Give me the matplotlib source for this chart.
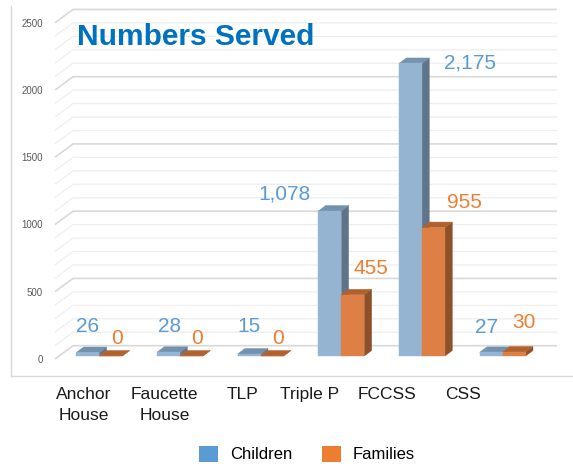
import matplotlib
matplotlib.use("Agg")
import matplotlib.pyplot as plt
from matplotlib.patches import Polygon, Patch
from matplotlib.lines import Line2D
from matplotlib import font_manager

# ---- data ----
categories = ["Anchor\nHouse", "Faucette\nHouse", "TLP", "Triple P", "FCCSS", "CSS"]
children = [26, 28, 15, 1078, 2175, 27]
families = [0, 0, 0, 455, 955, 30]
child_labels = ["26", "28", "15", "1,078", "2,175", "27"]
family_labels = ["0", "0", "0", "455", "955", "30"]
yticks = [0, 500, 1000, 1500, 2000, 2500]

# label offsets (pixels, right / up) relative to top of bar front face
child_off = [(0, 26), (1.5, 25.5), (0.3, 27), (-45, 17), (60, 0.5), (-4.7, 24.4)]
family_off = [(5.7, 17), (6, 17), (5.8, 17), (17.7, 26), (30.5, 24.6), (9.3, 29)]

# pick a narrow font if one is installed
narrow = None
for f in font_manager.fontManager.ttflist:
    if "Liberation Sans Narrow" in f.name:
        narrow = f.name
        break
if narrow:
    cat_font = {"family": narrow, "size": 14}
    leg_size = 14
else:
    cat_font = {"family": "Liberation Sans", "size": 12.5}
    leg_size = 12

W, H, DPI = 573, 472, 100
fig = plt.figure(figsize=(W / DPI, H / DPI), dpi=DPI)
fig.patch.set_facecolor("white")

# axes = front plane of the 3D box
L, R, B, T = 55, 539, 359, 22.75
ax = fig.add_axes([L / W, 1 - B / H, (R - L) / W, (B - T) / H])
ax.set_xlim(-0.5, 5.5)
ax.set_ylim(0, 2500)
ax.set_facecolor("none")
for s in ax.spines.values():
    s.set_visible(False)

px_x = (R - L) / 6.0          # pixels per x unit
px_y = (B - T) / 2500.0       # pixels per value unit


def d(dx_px, dy_px):
    return dx_px / px_x, dy_px / px_y


fdx, fdy = d(4, 3)        # bar front
bdx, bdy = d(11.3, 8.5)   # bar back
wdx, wdy = d(18, 13.3)    # back wall

# wall gridlines
for v in range(0, 2501, 100):
    major = v % 500 == 0
    c = "#d9d9d9" if major else "#eeeeee"
    lw = 1.2 if major else 0.9
    ax.plot([-0.5, -0.5 + wdx, 5.5 + wdx], [v, v + wdy, v + wdy], color=c, lw=lw,
            clip_on=False, zorder=1, solid_capstyle="butt")

bw = 23 / px_x
x = list(range(len(categories)))

styles = [
    ("#94B4D2", "#7491AD", "#5F7488"),
    ("#DE8046", "#B0612E", "#8D5028"),
]


def draw_bar(xl, v, cols):
    front, top, side = cols
    xr = xl + bw
    side_poly = [(xr + fdx, fdy), (xr + fdx, v + fdy), (xr + bdx, v + bdy), (xr + bdx, bdy)]
    top_poly = [(xl + fdx, v + fdy), (xr + fdx, v + fdy), (xr + bdx, v + bdy), (xl + bdx, v + bdy)]
    ax.add_patch(Polygon(side_poly, closed=True, facecolor=side, edgecolor=side, lw=0.3, zorder=3, clip_on=False))
    ax.add_patch(Polygon(top_poly, closed=True, facecolor=top, edgecolor=top, lw=0.3, zorder=3, clip_on=False))
    ax.bar(xl + fdx, v, width=bw, bottom=fdy, align="edge", color=front, edgecolor=front,
           lw=0.3, zorder=3, clip_on=False)


for i in x:
    draw_bar(i - bw, children[i], styles[0])
    draw_bar(i, families[i], styles[1])

# data labels
for i in x:
    cx = i - bw / 2 + fdx
    ax.annotate(child_labels[i], (cx, children[i] + fdy), xytext=(child_off[i][0] * 0.72, child_off[i][1] * 0.72),
                textcoords="offset points", ha="center", va="center", fontsize=15,
                family="Liberation Sans", color="#5B9BD5", zorder=5, annotation_clip=False)
    fx = i + bw / 2 + fdx
    ax.annotate(family_labels[i], (fx, families[i] + fdy), xytext=(family_off[i][0] * 0.72, family_off[i][1] * 0.72),
                textcoords="offset points", ha="center", va="center", fontsize=15,
                family="Liberation Sans", color="#ED7D31", zorder=5, annotation_clip=False)

# y ticks
ax.set_yticks(yticks)
ax.set_yticklabels([str(t) for t in yticks])
ax.tick_params(axis="y", length=0, pad=8.6, labelsize=7, labelcolor="#595959")
for lab in ax.get_yticklabels():
    lab.set_family("Liberation Sans")

# x tick labels (placed with slight perspective shift)
label_pos = [-0.14, 0.86, 1.83, 2.65, 3.62, 4.56]
ax.set_xticks(label_pos)
ax.set_xticklabels(categories)
ax.tick_params(axis="x", length=0, pad=20, labelcolor="#1a1a1a")
for lab in ax.get_xticklabels():
    lab.set_family(cat_font["family"])
    lab.set_fontsize(cat_font["size"])
    lab.set_linespacing(1.5)

# chart border (left & bottom)
fig.add_artist(Line2D([11 / W, 11 / W], [1 - 376 / H, 1 - 6 / H], color="#d9d9d9", lw=1))
fig.add_artist(Line2D([11 / W, 1.0], [1 - 376 / H, 1 - 376 / H], color="#d9d9d9", lw=1))

# title
fig.text(77 / W, 1 - 45 / H, "Numbers Served", fontsize=21.5, fontweight="bold",
         family="Liberation Sans", color="#0070C0", ha="left", va="baseline")

# legend
handles = [Patch(facecolor="#5B9BD5", edgecolor="none", label="Children"),
           Patch(facecolor="#ED7D31", edgecolor="none", label="Families")]
leg = fig.legend(handles=handles, loc="center", bbox_to_anchor=(307 / W, 1 - 454 / H), ncol=2,
                 frameon=False, prop={"family": cat_font["family"], "size": leg_size},
                 handlelength=1.15, handleheight=1.15, handletextpad=0.7, columnspacing=1.8)

fig.savefig("out.png", dpi=DPI)
